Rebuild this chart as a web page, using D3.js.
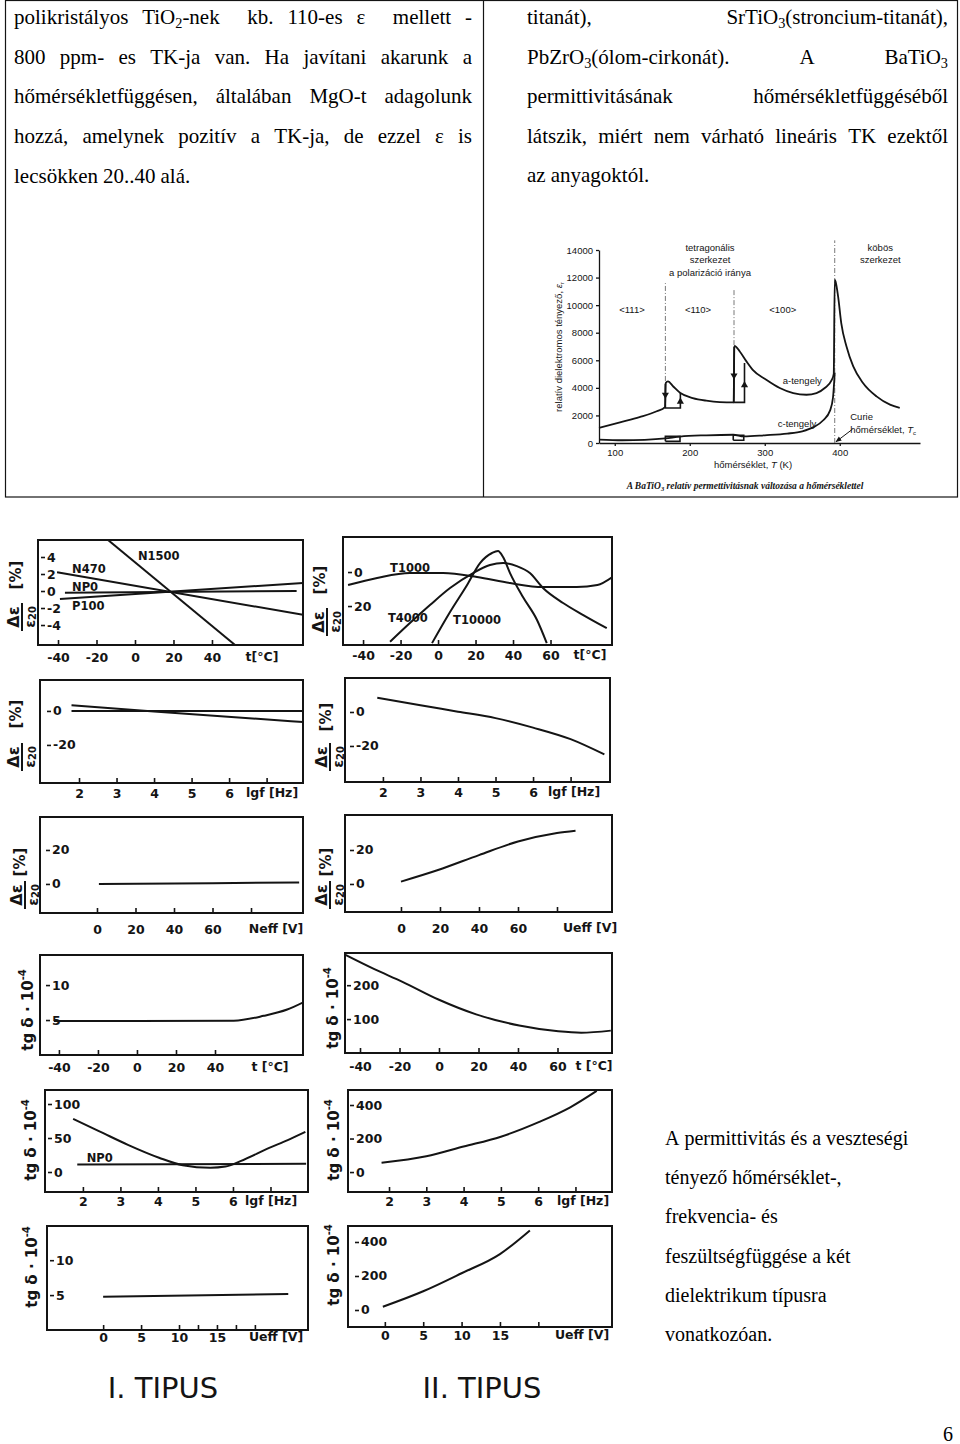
<!DOCTYPE html>
<html>
<head>
<meta charset="utf-8">
<script src="https://cdn.jsdelivr.net/npm/d3@7/dist/d3.min.js"></script>
<style>
body { margin: 0; background: #fff; }
.serif { font-family: "Liberation Serif", "Times New Roman", serif; }
.hand { font-family: "DejaVu Sans", sans-serif; font-weight: bold; }
.small { font-family: "Liberation Sans", Arial, sans-serif; }
</style>
</head>
<body>
<svg id="page" width="960" height="1444"></svg>
<script>
// ---- page text ----
const leftColumnLines = [
  "polikristályos TiO_2-nek  kb. 110-es ε  mellett -",
  "800 ppm- es TK-ja van. Ha javítani akarunk a",
  "hőmérsékletfüggésen, általában MgO-t adagolunk",
  "hozzá, amelynek pozitív a TK-ja, de ezzel ε is",
  "lecsökken 20..40 alá."
];
const rightColumnLines = [
  "titanát), SrTiO_3(stroncium-titanát),",
  "PbZrO_3(ólom-cirkonát). A BaTiO_3",
  "permittivitásának hőmérsékletfüggéséből",
  "látszik, miért nem várható lineáris TK ezektől",
  "az anyagoktól."
];
const noteLines = [
  "A permittivitás és a veszteségi",
  "tényező hőmérséklet-,",
  "frekvencia- és",
  "feszültségfüggése a két",
  "dielektrikum típusra",
  "vonatkozóan."
];

// ---- BaTiO3 permittivity vs temperature ----
const batioYTicks = [0, 2000, 4000, 6000, 8000, 10000, 12000, 14000];
const batioXTicks = [100, 200, 300, 400];
const aAxis = [[79,1090],[107,1500],[133,1880],[156,2300],[167,2600],[168,4350],[171,4470],[178,4100],[187.5,3620],[204,3260],[222,3070],[240,2970],[258.5,2950],[259.5,7050],[266.7,6640],[275.6,5920],[284,5310],[302,4590],[320,3990],[338,3620],[355.6,3500],[369,3620],[380,3990],[389,4540],[392,5020],[393.3,11840],[394.5,11700],[397.8,10630],[402,8700],[409,7000],[418,5560],[431,4350],[449,3380],[467,2780],[480,2540]];
const cAxis = [[79,250],[110,200],[140,230],[167.5,330],[187,470],[222,560],[258,600],[272,480],[300,560],[330,680],[350,850],[365,1150],[378,1650],[387,2350],[391,3300],[393.3,5100]];
const hyst111 = [[167.5,4300],[167.5,2540],[187.5,2540],[187.5,3620]];
const hyst110 = [[259,7000],[259,2950],[273,2950],[273,5800]];
const cBox111 = [[167.5,120],[187,120],[187,480],[167.5,480],[167.5,120]];
const cBox110 = [[258,200],[272,200],[272,560],[258,560],[258,200]];
const phaseLines = [[167.5,4500,11600],[259,7100,11100],[393.3,0,14700]];
const hystArrows = [[167.5,3500,"down"],[187.5,3000,"up"],[259,4900,"down"],[273,4200,"up"]];

// ---- I. / II. típus panels ----
const tempTicksI = [-40, -20, 0, 20, 40];
const pctTicksI = [4, 2, 0, -2, -4];
const n1500 = [[-14, 6.0], [52, -6.35]];
const n470 = [[-40.5, 2.2], [87.3, -2.8]];
const np0 = [[-36.4, -0.2], [84, 0]];
const p100 = [[-39, -0.95], [87.3, 0.95]];

const tempTicksII = [-40, -20, 0, 20, 40, 60];
const pctTicksII = [0, -20];
const t1000 = [[-48,-7.6],[-32.5,-3.5],[-15,-0.6],[2.7,-0.6],[20.8,-2.9],[38.4,-6.5],[56,-8.8],[74,-8.8],[85,-7.6],[93,-2.9]];
const t4000 = [[-25.6,-41],[-15,-30],[-4.3,-19.4],[6.4,-9.4],[18.7,-0.6],[27.7,4.1],[34.7,5.3],[42,3.5],[49,-0.6],[56,-9.4],[66.7,-18.2],[77,-25],[90,-33]];
const t10000 = [[-3.2,-41.8],[6.4,-23.5],[15.5,-7.6],[22.4,5.3],[28.8,11.2],[32,12.4],[34.7,8.8],[38.4,-0.6],[45.3,-14.7],[52.8,-28.2],[58,-41.8]];

const lgTicks = [2, 3, 4, 5, 6, 7];
const lgLabels = [2, 3, 4, 5, 6];
const pctTicksF = [0, -20];
const freqIa = [[1.8,3.3],[4,-0.3],[7.97,-6.5]];
const freqIb = [[1.8,0],[7.97,0]];
const freqII = [[1.85,8.4],[3,3.9],[4,0.2],[5,-3.6],[6,-9.2],[7,-16],[7.9,-25]];

const voltTicks = [0, 20, 40, 60, 80];
const voltLabels = [0, 20, 40, 60];
const pctTicksV = [20, 0];
const voltI = [[1,0],[60,0.4],[105,0.9]];
const voltII = [[0,1.4],[19,8.2],[40,17],[60,25],[80,30],[89.5,31.4]];

const tgTempTicksI = [10, 5];
const tgTempI = [[-42.6,4.85],[0,4.85],[49.6,4.9],[65,5.6],[77,6.5],[85,7.5]];
const tgTempTicksII = [200, 100];
const tgTempII = [[-47.6,290],[-33,248],[-18.5,210],[0,157],[18.8,114],[40.6,81],[60.4,64],[72,60],[87,66]];

const tgFreqTicksI = [100, 50, 0];
const tgFreqI = [[1.74,78],[2.47,59],[3.2,40],[4.03,21],[4.66,10],[5.4,6.3],[5.8,8],[6.2,16],[6.95,35],[7.46,47],[7.93,59]];
const tgFreqNP0 = [[1.85,11],[7.95,12]];
const tgFreqTicksII = [400, 200, 0];
const tgFreqII = [[1.8,55],[3,94],[4,152],[5,211],[6.03,299],[6.86,386],[7.57,484]];

const smallVoltTicksI = [0, 5, 10, 12.5, 15, 17.5, 20];
const smallVoltTicksII = [0, 5, 10, 15, 20];
const smallVoltLabels = [0, 5, 10, 15];
const tgVoltTicksI = [10, 5];
const tgVoltI = [[0,4.77],[24.4,5.14]];
const tgVoltTicksII = [400, 200, 0];
const tgVoltII = [[-0.26,19],[5,110],[10,216],[15,329],[18.9,468]];

const ink = "#141414";
const svg = d3.select("#page");

// ---------- top table with two text columns ----------
svg.append("rect").attr("x", 5.5).attr("y", 0.5).attr("width", 952).attr("height", 496.5)
  .attr("fill", "none").attr("stroke", ink).attr("stroke-width", 1.2);
svg.append("line").attr("x1", 483.5).attr("x2", 483.5).attr("y1", 0).attr("y2", 497)
  .attr("stroke", ink).attr("stroke-width", 1.2);

function rich(t, str) {
  const parts = str.split(/_(\d)/);
  let shifted = false;
  parts.forEach((p, i) => {
    if (p === "") return;
    const ts = t.append("tspan").text(p);
    if (i % 2 === 1) { ts.attr("font-size", "0.68em").attr("dy", 4); shifted = true; }
    else if (shifted) { ts.attr("dy", -4); shifted = false; }
  });
}

function paragraph(lines, x0, x1, y0, lh, justify, size) {
  const g = svg.append("g").attr("class", "serif").attr("font-size", size).attr("fill", "#000");
  lines.forEach((line, li) => {
    const y = y0 + li * lh;
    const just = justify && li < lines.length - 1;
    const words = line.split(" ");
    const nodes = words.map(w => { const t = g.append("text").attr("y", y); rich(t, w); return t; });
    const widths = nodes.map(n => n.node().getComputedTextLength());
    const gap = just && words.length > 1 ? (x1 - x0 - d3.sum(widths)) / (words.length - 1) : 5;
    let x = x0;
    nodes.forEach((n, i) => { n.attr("x", x); x += widths[i] + gap; });
  });
}
paragraph(leftColumnLines, 14, 472, 24, 39.7, true, 21);
paragraph(rightColumnLines, 527, 948, 24, 39.5, true, 21);
paragraph(noteLines, 665, 940, 1145, 39.2, false, 20);
svg.append("text").attr("class", "serif").attr("font-size", 20).attr("x", 948).attr("y", 1441)
  .attr("text-anchor", "middle").text("6");

// ---------- BaTiO3 chart ----------
const bx = d3.scaleLinear().domain([79, 507]).range([599, 920]);
const by = d3.scaleLinear().domain([0, 14000]).range([443, 250]);
const bt = svg.append("g").attr("class", "small").attr("fill", ink);

const yAx = bt.append("g").attr("transform", "translate(599,0)")
  .call(d3.axisLeft(by).tickValues(batioYTicks).tickSize(3).tickSizeOuter(0).tickPadding(3).tickFormat(d => d));
const xAx = bt.append("g").attr("transform", "translate(0,443)")
  .call(d3.axisBottom(bx).tickValues(batioXTicks).tickSize(3).tickSizeOuter(0).tickPadding(3).tickFormat(d => d));
[yAx, xAx].forEach(a => {
  a.attr("font-family", "Liberation Sans, Arial, sans-serif").attr("font-size", 9.5);
  a.selectAll("path,line").attr("stroke", ink).attr("stroke-width", 1.3);
  a.selectAll("text").attr("fill", ink);
});

bt.selectAll("line.phase").data(phaseLines).join("line").attr("class", "phase")
  .attr("x1", d => bx(d[0])).attr("x2", d => bx(d[0]))
  .attr("y1", d => by(d[1])).attr("y2", d => by(d[2]))
  .attr("stroke", "#555").attr("stroke-width", 0.8).attr("stroke-dasharray", "5,2,1,2");

const bLine = d3.line().x(d => bx(d[0])).y(d => by(d[1]));
bt.append("path").attr("d", bLine.curve(d3.curveMonotoneX)(aAxis)).attr("fill", "none").attr("stroke", ink).attr("stroke-width", 1.8);
bt.append("path").attr("d", bLine.curve(d3.curveMonotoneX)(cAxis)).attr("fill", "none").attr("stroke", ink).attr("stroke-width", 1.8);
bLine.curve(d3.curveLinear);
[hyst111, hyst110, cBox111, cBox110].forEach(s =>
  bt.append("path").attr("d", bLine(s)).attr("fill", "none").attr("stroke", ink).attr("stroke-width", 1.6));

bt.selectAll("path.arrow").data(hystArrows).join("path").attr("class", "arrow")
  .attr("d", d3.symbol(d3.symbolTriangle, 22))
  .attr("transform", d => `translate(${bx(d[0])},${by(d[1])}) rotate(${d[2] === "down" ? 180 : 0})`)
  .attr("fill", ink);

const defs = svg.append("defs");
defs.append("marker").attr("id", "head").attr("viewBox", "0 0 10 10").attr("refX", 9).attr("refY", 5)
  .attr("markerWidth", 6).attr("markerHeight", 6).attr("orient", "auto")
  .append("path").attr("d", "M0,1L10,5L0,9z").attr("fill", ink);
bt.append("line").attr("x1", bx(417)).attr("y1", by(1000)).attr("x2", bx(395)).attr("y2", by(90))
  .attr("stroke", ink).attr("stroke-width", 1).attr("marker-end", "url(#head)");

const bLabels = [
  ["tetragonális", 227, 14150, "middle"], ["szerkezet", 227, 13280, "middle"], ["a polarizáció iránya", 227, 12330, "middle"],
  ["köbös", 454, 14150, "middle"], ["szerkezet", 454, 13280, "middle"],
  ["<111>", 123, 9650, "middle"], ["<110>", 211, 9650, "middle"], ["<100>", 324, 9650, "middle"],
  ["a-tengely", 350, 4500, "middle"], ["c-tengely", 343, 1380, "middle"],
  ["Curie", 414, 1900, "start"]
];
bt.selectAll("text.lab").data(bLabels).join("text").attr("class", "lab")
  .attr("x", d => bx(d[1])).attr("y", d => by(d[2])).attr("dy", "0.35em")
  .attr("text-anchor", d => d[3]).attr("font-size", 9.5).text(d => d[0]);
const tc = bt.append("text").attr("x", bx(414)).attr("y", by(1000)).attr("dy", "0.35em").attr("font-size", 9.5);
tc.append("tspan").text("hőmérséklet, ");
tc.append("tspan").attr("font-style", "italic").text("T");
tc.append("tspan").attr("font-size", 6).attr("dy", 2).text("c");
const bxl = bt.append("text").attr("x", 753).attr("y", 465).attr("dy", "0.35em").attr("text-anchor", "middle").attr("font-size", 9.5);
bxl.append("tspan").text("hőmérséklet, ");
bxl.append("tspan").attr("font-style", "italic").text("T");
bxl.append("tspan").text(" (K)");
const byl = bt.append("text").attr("transform", "translate(562,347) rotate(-90)").attr("text-anchor", "middle").attr("font-size", 9.5);
byl.append("tspan").text("relatív dielektromos tényező, ");
byl.append("tspan").attr("font-style", "italic").text("ε");
byl.append("tspan").attr("font-size", 6).attr("dy", 2).text("r");
const cap = bt.append("text").attr("class", "serif").attr("x", 745).attr("y", 489)
  .attr("text-anchor", "middle").attr("font-size", 9.5).attr("font-weight", "bold").attr("font-style", "italic");
cap.append("tspan").text("A BaTiO");
cap.append("tspan").attr("font-size", 6.5).attr("dy", 2).text("3");
cap.append("tspan").attr("dy", -2).text(" relatív permettivitásnak változása a hőmérséklettel");

// ---------- hand-drawn panels ----------
function pctTitle(g, p, f) {
  g.append("text").attr("transform", `translate(${p[0]},${p[1]}) rotate(-90)`)
    .attr("text-anchor", "middle").attr("dy", "0.35em").attr("font-size", 15).text("[%]");
  const fr = g.append("g").attr("transform", `translate(${f[0]},${f[1]}) rotate(-90)`);
  fr.append("text").attr("text-anchor", "middle").attr("y", -3).attr("font-size", 16).text("Δε");
  fr.append("line").attr("x1", -14).attr("x2", 14).attr("stroke", ink).attr("stroke-width", 2);
  const d = fr.append("text").attr("text-anchor", "middle").attr("y", 13).attr("font-size", 14);
  d.append("tspan").text("ε");
  d.append("tspan").attr("font-size", 10).attr("dy", 1).text("20");
}
function tgTitle(g, p) {
  const t = g.append("text").attr("transform", `translate(${p[0]},${p[1]}) rotate(-90)`)
    .attr("text-anchor", "middle").attr("dy", "0.35em").attr("font-size", 15);
  t.append("tspan").text("tg δ · 10");
  t.append("tspan").attr("font-size", 10).attr("dy", -7).text("-4");
}

let clipCount = 0;
function drawPanel(p) {
  const [x0, x1, y0, y1] = p.box;
  const x = d3.scaleLinear().domain(p.xd).range([x0, x1]);
  const y = d3.scaleLinear().domain(p.yd).range([y1, y0]);
  const g = svg.append("g").attr("class", "hand").attr("fill", ink);
  const id = "clip" + (clipCount++);
  g.append("clipPath").attr("id", id).append("rect")
    .attr("x", x0).attr("y", y0).attr("width", x1 - x0).attr("height", y1 - y0);

  const xa = g.append("g").attr("transform", `translate(0,${y1})`)
    .call(d3.axisBottom(x).tickValues(p.xTicks).tickSize(-5).tickPadding(p.labelY - y1 - 4)
      .tickFormat(d => p.xLabels.includes(d) ? String(d) : ""));
  const ya = g.append("g").attr("transform", `translate(${p.tickX},0)`)
    .call(d3.axisRight(y).tickValues(p.yTicks).tickSize(4).tickPadding(2).tickFormat(p.yFmt || String));
  [xa, ya].forEach(a => {
    a.select(".domain").remove();
    a.attr("font-family", "DejaVu Sans, sans-serif").attr("font-size", 12.5);
    a.selectAll("line").attr("stroke", ink).attr("stroke-width", 1.6);
    a.selectAll("text").attr("fill", ink);
  });

  g.append("rect").attr("x", x0).attr("y", y0).attr("width", x1 - x0).attr("height", y1 - y0)
    .attr("fill", "none").attr("stroke", ink).attr("stroke-width", 2);

  const line = d3.line().x(d => x(d[0])).y(d => y(d[1])).curve(d3.curveMonotoneX);
  g.append("g").attr("clip-path", `url(#${id})`)
    .selectAll("path").data(p.series).join("path")
    .attr("d", line).attr("fill", "none").attr("stroke", ink).attr("stroke-width", 2);

  (p.notes || []).forEach(([txt, at]) =>
    g.append("text").attr("x", x(at[0])).attr("y", y(at[1])).attr("dy", "0.35em").attr("font-size", 11.5).text(txt));

  g.append("text").attr("x", p.xTitleX).attr("y", p.labelY).attr("dy", "0.35em")
    .attr("text-anchor", "middle").attr("font-size", 12.5).text(p.xTitle);

  if (p.pct) pctTitle(g, p.pct, p.frac);
  if (p.tg) tgTitle(g, p.tg);
}

const panels = [
  { box: [38, 303, 540, 645], xd: [-50.4, 87.3], yd: [-6.35, 6.0], xTicks: tempTicksI, xLabels: tempTicksI,
    yTicks: pctTicksI, tickX: 41, labelY: 657, xTitle: "t[°C]", xTitleX: 262,
    series: [n1500, n470, np0, p100], pct: [16, 575], frac: [22, 617],
    notes: [["N1500", [1.5, 4.1]], ["N470", [-32.7, 2.6]], ["NP0", [-32.7, 0.5]], ["P100", [-32.7, -1.8]]] },
  { box: [343, 612, 537, 645], xd: [-50.7, 92.8], yd: [-42.9, 20.6], xTicks: tempTicksII, xLabels: tempTicksII,
    yTicks: pctTicksII, yFmt: d => String(Math.abs(d)), tickX: 348, labelY: 655, xTitle: "t[°C]", xTitleX: 590,
    series: [t1000, t4000, t10000], pct: [320, 580], frac: [327, 622],
    notes: [["T1000", [-25.6, 2.4]], ["T4000", [-26.7, -27]], ["T10000", [8, -28.2]]] },
  { box: [40, 303, 680, 783], xd: [0.96, 7.97], yd: [-42.4, 18.2], xTicks: lgTicks, xLabels: lgLabels,
    yTicks: pctTicksF, tickX: 47, labelY: 793, xTitle: "lgf [Hz]", xTitleX: 272,
    series: [freqIa, freqIb], pct: [16, 714], frac: [22, 757] },
  { box: [345, 610, 678, 782], xd: [0.99, 8.05], yd: [-41.2, 20], xTicks: lgTicks, xLabels: lgLabels,
    yTicks: pctTicksF, tickX: 350, labelY: 792, xTitle: "lgf [Hz]", xTitleX: 574,
    series: [freqII], pct: [326, 717], frac: [330, 757] },
  { box: [40, 303, 817, 913], xd: [-29.6, 107], yd: [-17.1, 39.4], xTicks: voltTicks, xLabels: voltLabels,
    yTicks: pctTicksV, tickX: 46, labelY: 929, xTitle: "Neff [V]", xTitleX: 276,
    series: [voltI], pct: [20, 862], frac: [25, 895] },
  { box: [345, 612, 815, 912], xd: [-28.7, 108.2], yd: [-16.5, 40.6], xTicks: voltTicks, xLabels: voltLabels,
    yTicks: pctTicksV, tickX: 350, labelY: 928, xTitle: "Ueff [V]", xTitleX: 590,
    series: [voltII], pct: [326, 862], frac: [330, 895] },
  { box: [40, 303, 955, 1055], xd: [-49.7, 85.1], yd: [0, 14.3], xTicks: tempTicksI, xLabels: tempTicksI,
    yTicks: tgTempTicksI, tickX: 46, labelY: 1067, xTitle: "t [°C]", xTitleX: 270,
    series: [tgTempI], tg: [28, 1010] },
  { box: [345, 612, 953, 1053], xd: [-47.6, 87.6], yd: [0, 295], xTicks: tempTicksII, xLabels: tempTicksII,
    yTicks: tgTempTicksII, tickX: 347, labelY: 1066, xTitle: "t [°C]", xTitleX: 594,
    series: [tgTempII], tg: [333, 1008] },
  { box: [45, 308, 1090, 1192], xd: [0.99, 8.0], yd: [-29.4, 120.6], xTicks: lgTicks, xLabels: lgLabels,
    yTicks: tgFreqTicksI, tickX: 48, labelY: 1201, xTitle: "lgf [Hz]", xTitleX: 271,
    series: [tgFreqI, tgFreqNP0], tg: [31, 1140], notes: [["NP0", [2.1, 20]]] },
  { box: [348, 612, 1090, 1192], xd: [0.9, 7.98], yd: [-119, 489.6], xTicks: lgTicks, xLabels: lgLabels,
    yTicks: tgFreqTicksII, tickX: 350, labelY: 1201, xTitle: "lgf [Hz]", xTitleX: 583,
    series: [tgFreqII], tg: [334, 1140] },
  { box: [47, 308, 1226, 1330], xd: [-7.4, 27], yd: [0, 14.9], xTicks: smallVoltTicksI, xLabels: smallVoltLabels,
    yTicks: tgVoltTicksI, tickX: 50, labelY: 1337, xTitle: "Ueff [V]", xTitleX: 276,
    series: [tgVoltI], tg: [32, 1267] },
  { box: [348, 612, 1226, 1327], xd: [-4.8, 29.6], yd: [-100, 494], xTicks: smallVoltTicksII, xLabels: smallVoltLabels,
    yTicks: tgVoltTicksII, tickX: 355, labelY: 1335, xTitle: "Ueff [V]", xTitleX: 582,
    series: [tgVoltII], tg: [334, 1265] }
];
panels.forEach(drawPanel);

svg.append("text").attr("x", 163).attr("y", 1398).attr("text-anchor", "middle")
  .attr("font-family", "DejaVu Sans, sans-serif").attr("font-size", 29).attr("fill", ink).text("I. TIPUS");
svg.append("text").attr("x", 482).attr("y", 1398).attr("text-anchor", "middle")
  .attr("font-family", "DejaVu Sans, sans-serif").attr("font-size", 29).attr("fill", ink).text("II. TIPUS");
</script>
</body>
</html>
